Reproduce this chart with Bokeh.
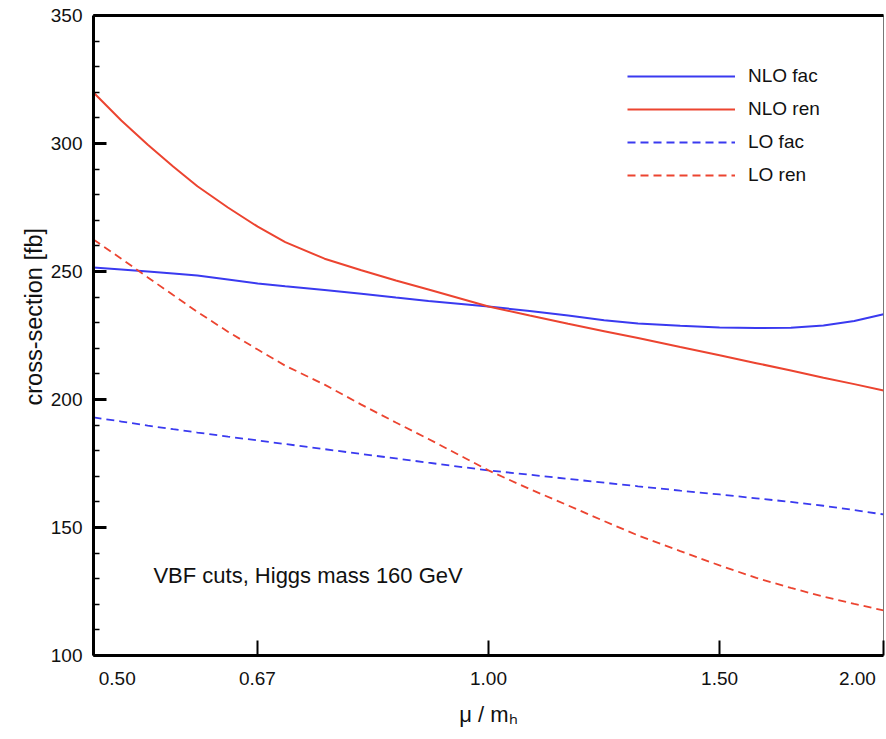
from bokeh.plotting import figure
from bokeh.models import (FixedTicker, SingleIntervalTicker, Legend, LegendItem, Label,
                          LogAxis, Range1d, CustomJSTickFormatter, Title)
from bokeh.embed import file_html
from bokeh.resources import INLINE

# ---- data ----
mu = [0.5, 0.525, 0.55, 0.575, 0.6, 0.633, 0.667, 0.7, 0.75, 0.8, 0.85, 0.9,
      1.0, 1.075, 1.15, 1.225, 1.3, 1.4, 1.5, 1.6, 1.7, 1.8, 1.9, 2.0]
nlo_fac = [251.6, 250.8, 250.0, 249.2, 248.4, 246.9, 245.3, 244.2, 242.8, 241.3, 239.8, 238.5,
           236.3, 234.6, 232.8, 231.0, 229.7, 228.8, 228.1, 227.9, 228.0, 228.9, 230.7, 233.3]
nlo_ren = [319.9, 309.0, 299.5, 291.0, 283.3, 275.0, 267.5, 261.5, 255.0, 250.5, 246.5, 243.0,
           236.3, 232.8, 229.6, 226.7, 224.0, 220.5, 217.3, 214.2, 211.3, 208.5, 206.0, 203.5]
lo_fac = [193.0, 191.4, 189.8, 188.4, 187.1, 185.5, 184.0, 182.6, 180.6, 178.7, 177.0, 175.3,
          172.3, 170.6, 169.0, 167.5, 166.1, 164.4, 162.9, 161.4, 160.0, 158.5, 156.8, 155.1]
lo_ren = [262.5, 255.0, 247.7, 240.8, 234.2, 226.5, 219.5, 213.2, 205.8, 198.0, 191.0, 184.6,
          172.3, 165.0, 158.6, 152.5, 146.9, 140.8, 135.2, 130.3, 126.4, 123.0, 120.2, 117.6]
x_ticks = [0.5, 2/3, 1.0, 1.5, 2.0]
x_tick_labels = ["0.50", "0.67", "1.00", "1.50", "2.00"]
series_names = ["NLO fac", "NLO ren", "LO fac", "LO ren"]

FONT = "Liberation Sans"
BLUE = "#3a3af0"
RED = "#ec4430"
INK = "#111111"

p = figure(width=886, height=739, x_axis_type="log",
           x_range=Range1d(0.5, 2.0), y_range=Range1d(100, 350),
           output_backend="svg", toolbar_location=None,
           min_border_left=93, min_border_right=3, min_border_top=15, min_border_bottom=84)
p.xgrid.visible = False
p.ygrid.visible = False
p.outline_line_color = "#777777"
p.outline_line_width = 1
p.background_fill_color = "white"

# y axis
ya = p.yaxis[0]
ya.ticker = SingleIntervalTicker(interval=50, num_minor_ticks=5)
ya.axis_line_width = 3
ya.major_tick_in = 13
ya.major_tick_out = 0
ya.major_tick_line_width = 3
ya.minor_tick_in = 6
ya.minor_tick_out = 0
ya.minor_tick_line_width = 1.5
ya.major_label_text_font = FONT
ya.major_label_text_font_size = "19px"
ya.major_label_text_color = INK
ya.major_label_standoff = 11

# x axis (edge labels padded with no-break spaces so they sit inside, as in the reference)
xa = p.xaxis[0]
xa.ticker = FixedTicker(ticks=x_ticks)
xa.formatter = CustomJSTickFormatter(args=dict(t=x_ticks, l=x_tick_labels), code="""
const nb = '\\u00a0';
for (let i = 0; i < t.length; i++) {
  if (Math.abs(t[i] - tick) < 1e-6) {
    if (i == 0) return nb.repeat(9) + l[i];
    if (i == t.length - 1) return l[i] + nb.repeat(2);
    return l[i];
  }
}
return '';
""")
xa.axis_line_width = 3
xa.major_tick_in = 15
xa.major_tick_out = 0
xa.major_tick_line_width = 2
xa.minor_tick_line_color = None
xa.major_label_text_font = FONT
xa.major_label_text_font_size = "19px"
xa.major_label_text_color = INK
xa.major_label_standoff = 12

# top border axis
top = LogAxis(ticker=FixedTicker(ticks=[]), axis_line_width=3,
              major_tick_line_color=None, minor_tick_line_color=None,
              major_label_text_font_size="0px", major_label_standoff=0)
p.add_layout(top, "above")

# axis titles
p.add_layout(Title(text="cross-section [fb]", align="left", offset=250, standoff=2,
                   text_font=FONT, text_font_size="23.5px", text_font_style="normal",
                   text_color=INK), "left")
p.add_layout(Title(text="μ / mₕ", align="center", offset=-13, standoff=16,
                   text_font=FONT, text_font_size="22px", text_font_style="normal",
                   text_color=INK), "below")

# curves
r1 = p.line(mu, nlo_fac, line_color=BLUE, line_width=2)
r2 = p.line(mu, nlo_ren, line_color=RED, line_width=2)
r3 = p.line(mu, lo_fac, line_color=BLUE, line_width=1.8, line_dash="8 5")
r4 = p.line(mu, lo_ren, line_color=RED, line_width=1.8, line_dash="8 5")

legend = Legend(items=[LegendItem(label=n, renderers=[r]) for n, r in zip(series_names, [r1, r2, r3, r4])],
                location=(534, 469), glyph_width=108, glyph_height=20, label_height=20,
                spacing=11, padding=0, margin=0, border_line_color=None,
                background_fill_alpha=0, label_text_font=FONT, label_text_font_size="19px",
                label_text_color=INK, label_standoff=13)
p.add_layout(legend)

# annotation
p.add_layout(Label(x=0.5554, y=131.3, text="VBF cuts, Higgs mass 160 GeV",
                   text_align="left", text_baseline="middle", text_color=INK,
                   text_font=FONT, text_font_size="22px"))

open("out.html", "w").write(file_html(p, INLINE))
